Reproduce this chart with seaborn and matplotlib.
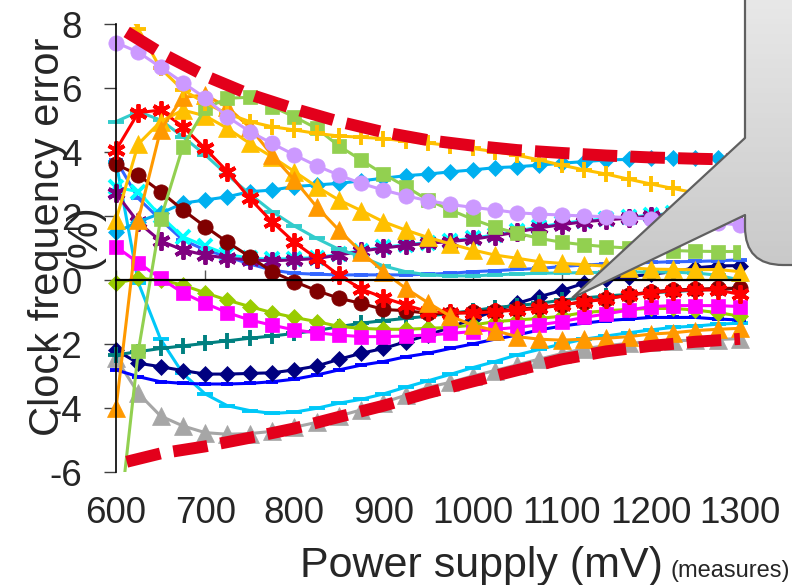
import numpy as np
import pandas as pd
import matplotlib
matplotlib.use("Agg")
import matplotlib.pyplot as plt
import seaborn as sns
from matplotlib.patches import Polygon, Rectangle, FancyBboxPatch
from matplotlib.colors import to_rgb

# ---------------- data ----------------
voltage = list(range(600, 1301, 25))  # mV, 29 measure points

lavender_circ = [7.42, 7.12, 6.65, 6.17, 5.69, 5.1, 4.64, 4.27, 3.91, 3.57, 3.28, 3.02, 2.81, 2.63, 2.48,
                 2.36, 2.27, 2.19, 2.1, 2.06, 2.03, 2.0, 1.98, 1.95, 1.9, 1.86, 1.82, 1.78, 1.72]
gold_plus = [9.0, 7.85, 6.61, 5.94, 5.53, 5.2, 4.95, 4.79, 4.69, 4.58, 4.5, 4.46, 4.42, 4.34, 4.28,
             4.2, 4.11, 4.01, 3.9, 3.75, 3.59, 3.44, 3.31, 3.15, 3.0, 2.86, 2.72, 2.58, 2.45]
green_sq = [-8.5, -2.22, 1.9, 4.17, 5.36, 5.68, 5.71, 5.42, 5.1, 4.74, 4.19, 3.75, 3.31, 2.92, 2.5,
            2.19, 1.9, 1.65, 1.46, 1.3, 1.18, 1.1, 1.04, 1.0, 0.96, 0.92, 0.9, 0.89, 0.89]
orange_tri = [-4.01, 1.88, 4.69, 5.71, 5.78, 5.4, 4.77, 3.9, 3.13, 2.29, 1.56, 0.88, 0.26, -0.26, -0.71,
              -1.13, -1.41, -1.58, -1.77, -1.85, -1.88, -1.85, -1.82, -1.77, -1.69, -1.65, -1.58, -1.54, -1.51]
gold_tri = [1.88, 4.25, 4.95, 5.31, 5.13, 4.74, 4.27, 3.85, 3.39, 2.92, 2.5, 2.17, 1.82, 1.56, 1.33,
            1.13, 0.94, 0.78, 0.68, 0.57, 0.52, 0.48, 0.43, 0.38, 0.34, 0.33, 0.32, 0.33, 0.26]
red_star = [4.06, 5.23, 5.31, 4.79, 4.11, 3.39, 2.55, 1.82, 1.18, 0.68, 0.15, -0.28, -0.55, -0.78, -0.99,
            -1.02, -1.04, -0.99, -0.94, -0.89, -0.78, -0.68, -0.6, -0.47, -0.4, -0.33, -0.31, -0.31, -0.45]
turq_dash = [4.95, 5.26, 5.0, 4.48, 3.91, 3.28, 2.69, 2.14, 1.69, 1.3, 0.96, 0.73, 0.44, 0.26, 0.16,
             0.13, 0.13, 0.16, 0.19, 0.21, 0.22, 0.23, 0.24, 0.25, 0.25, 0.24, 0.22, 0.15, 0.0]
darkred_circ = [3.62, 3.28, 2.76, 2.19, 1.67, 1.18, 0.73, 0.26, -0.05, -0.33, -0.57, -0.73, -0.92, -0.96, -1.04,
                -1.06, -0.99, -0.96, -0.92, -0.85, -0.78, -0.68, -0.58, -0.47, -0.37, -0.31, -0.29, -0.26, -0.26]
sky_diam = [1.49, 1.82, 2.08, 2.4, 2.5, 2.6, 2.76, 2.81, 2.92, 2.97, 3.02, 3.1, 3.18, 3.26, 3.31,
            3.38, 3.44, 3.51, 3.54, 3.59, 3.65, 3.7, 3.75, 3.77, 3.8, 3.8, 3.82, 3.8, 3.8]
purple_star = [2.71, 1.8, 1.22, 0.94, 0.78, 0.68, 0.63, 0.6, 0.63, 0.67, 0.78, 0.9, 1.0, 1.08, 1.15,
               1.2, 1.27, 1.38, 1.5, 1.63, 1.73, 1.82, 1.88, 1.93, 2.0, 2.06, 2.1, 2.14, 2.18]
cyan_x = [2.9, 2.76, 2.0, 1.35, 1.06, 0.8, 0.68, 0.65, 0.67, 0.7, 0.8, 0.92, 1.02, 1.1, 1.17,
          1.23, 1.3, 1.41, 1.53, 1.66, 1.77, 1.85, 1.91, 1.96, 2.03, 2.08, 2.12, 2.16, 2.2]
royal_dash = [3.75, 2.55, 1.88, 1.25, 0.94, 0.73, 0.5, 0.31, 0.21, 0.18, 0.16, 0.16, 0.16, 0.16, 0.18,
              0.21, 0.26, 0.29, 0.33, 0.36, 0.42, 0.47, 0.5, 0.52, 0.55, 0.57, 0.58, 0.6, 0.63]
magenta_sq = [1.04, 0.54, 0.05, -0.4, -0.73, -1.02, -1.25, -1.41, -1.56, -1.65, -1.72, -1.77, -1.77, -1.75, -1.72,
              -1.67, -1.61, -1.54, -1.48, -1.4, -1.3, -1.17, -1.06, -0.94, -0.83, -0.8, -0.8, -0.8, -0.83]
ygreen_diam = [-0.1, 0.05, 0.0, -0.16, -0.4, -0.63, -0.83, -1.02, -1.17, -1.3, -1.45, -1.51, -1.54, -1.54, -1.51,
               -1.48, -1.41, -1.3, -1.25, -1.2, -1.13, -1.02, -0.96, -0.92, -0.89, -0.89, -0.94, -1.02, -1.13]
teal_plus = [-2.34, -2.24, -2.14, -2.06, -1.98, -1.9, -1.82, -1.75, -1.67, -1.58, -1.46, -1.35, -1.27, -1.2, -1.13,
             -1.04, -0.96, -0.86, -0.8, -0.73, -0.63, -0.56, -0.5, -0.45, -0.4, -0.36, -0.32, -0.29, -0.26]
navy_diam = [-2.19, -2.6, -2.71, -2.83, -2.94, -2.94, -2.92, -2.9, -2.81, -2.69, -2.48, -2.29, -2.14, -1.93, -1.72,
             -1.48, -1.22, -0.96, -0.73, -0.52, -0.33, -0.1, 0.03, 0.1, 0.18, 0.26, 0.38, 0.44, 0.45]
blue_dash = [-2.81, -3.02, -3.18, -3.23, -3.25, -3.25, -3.23, -3.18, -3.1, -2.97, -2.81, -2.66, -2.55, -2.4, -2.29,
             -2.14, -2.0, -1.85, -1.72, -1.56, -1.44, -1.35, -1.27, -1.22, -1.17, -1.17, -1.17, -1.22, -1.25]
lightblue_dash = [3.7, -0.08, -1.85, -2.92, -3.56, -3.93, -4.08, -4.17, -4.13, -4.01, -3.85, -3.73, -3.56, -3.35, -3.15,
                  -2.95, -2.74, -2.55, -2.34, -2.17, -2.0, -1.85, -1.75, -1.65, -1.56, -1.48, -1.44, -1.38, -1.35]
gray_tri = [-2.45, -3.54, -4.25, -4.56, -4.77, -4.82, -4.8, -4.73, -4.6, -4.45, -4.25, -4.06, -3.83, -3.6, -3.35,
            -3.2, -3.0, -2.83, -2.65, -2.47, -2.3, -2.15, -2.05, -1.98, -1.93, -1.9, -1.88, -1.86, -1.83]

envelope_v = [612, 650, 700, 750, 800, 850, 900, 950, 1000, 1050, 1100, 1150, 1200, 1250, 1300]
envelope_upper = [7.75, 7.1, 6.38, 5.8, 5.35, 4.95, 4.62, 4.37, 4.2, 4.06, 3.97, 3.89, 3.83, 3.79, 3.76]
envelope_lower = [-5.68, -5.42, -5.2, -4.93, -4.64, -4.28, -3.93, -3.53, -3.17, -2.82, -2.48, -2.23, -2.06, -1.93, -1.84]

x_ticks = [600, 700, 800, 900, 1000, 1100, 1200, 1300]
y_ticks = [-6, -4, -2, 0, 2, 4, 6, 8]

# (values, color, marker, markersize, clip)
series = [
    (gray_tri, "#A6A6A6", "^", 12.5, False),
    (lightblue_dash, "#00C8F8", "_", 11, False),
    (blue_dash, "#0000FF", "_", 9, False),
    (navy_diam, "#000080", "D", 8.6, False),
    (teal_plus, "#008080", "+", 12, False),
    (ygreen_diam, "#99CC00", "D", 8.6, False),
    (magenta_sq, "#FF00FF", "s", 10, False),
    (royal_dash, "#3366FF", "_", 10, False),
    (cyan_x, "#00FFFF", "x", 10, False),
    (purple_star, "#800080", (6, 2, 0), 13, False),
    (sky_diam, "#00B0F0", "D", 8.6, False),
    (darkred_circ, "#800000", "o", 11, False),
    (turq_dash, "#33CCCC", "_", 11, False),
    (red_star, "#FF0000", (6, 2, 0), 13, False),
    (gold_tri, "#FFC000", "^", 12.5, False),
    (orange_tri, "#FF9900", "^", 12.5, False),
    (green_sq, "#92D050", "s", 10, True),
    (gold_plus, "#FFC000", "+", 12, True),
    (lavender_circ, "#CC99FF", "o", 11, False),
]

# ---------------- style ----------------
sns.set_style("white")
plt.rcParams["font.family"] = ["Liberation Sans", "DejaVu Sans"]
plt.rcParams["axes.unicode_minus"] = False

W, H = 792, 585
fig = plt.figure(figsize=(W / 100, H / 100), dpi=100)
ax = fig.add_axes([116 / W, 1 - 472 / H, (740 - 116) / W, (472 - 24) / H])
ax.set_facecolor("none")

for vals, col, mk, ms, clip in series:
    linelike = mk in ("_", "+", "x") or isinstance(mk, tuple)
    sns.lineplot(x=voltage, y=vals, ax=ax, color=col, marker=mk, markersize=ms,
                 markeredgecolor=col, markerfacecolor=col,
                 markeredgewidth=2.8 if linelike else 0.5,
                 linewidth=2.2, clip_on=clip)

env_red = "#E3001B"
for env in (envelope_upper, envelope_lower):
    sns.lineplot(x=envelope_v, y=env, ax=ax, color=env_red, linewidth=8.6,
                 linestyle=(0, (2.9, 1.1)), dash_capstyle="butt", clip_on=False)

ax.set_xlim(600, 1300)
ax.set_ylim(-6, 8)
ax.set_xlabel("")
ax.set_ylabel("")

for s in ("top", "right"):
    ax.spines[s].set_visible(False)
ax.spines["left"].set_color("black")
ax.spines["left"].set_linewidth(1.2)
ax.spines["bottom"].set_position(("data", 0))
ax.spines["bottom"].set_color("black")
ax.spines["bottom"].set_linewidth(1.6)

ax.set_xticks(x_ticks)
ax.tick_params(axis="x", direction="in", length=7, width=1, color="#555555",
               labelbottom=False, bottom=True)
ax.set_yticks(y_ticks)
ax.tick_params(axis="y", direction="out", length=8.5, width=1, color="#404040",
               labelsize=26.5, pad=16, left=True)

secx = ax.secondary_xaxis("bottom")
secx.set_xticks(x_ticks)
secx.tick_params(length=0, pad=17, labelsize=26.5)
secx.spines["bottom"].set_visible(False)

fig.text(66 / W, 1 - 237 / H, "Clock frequency error\n(%)", rotation=90,
         ha="center", va="center", fontsize=30, linespacing=0.9, multialignment="center")
fig.text(481 / W, 1 - 577 / H, "Power supply (mV)", ha="center", va="baseline", fontsize=31)
fig.text(670 / W, 1 - 577 / H, "(measures)", ha="left", va="baseline", fontsize=17)

# ---------------- callout (pixel coordinates, y downwards) ----------------
oax = fig.add_axes([0, 0, 1, 1], zorder=20)
oax.set_xlim(0, W)
oax.set_ylim(H, 0)
oax.set_autoscale_on(False)
oax.axis("off")
oax.patch.set_alpha(0)

edge_col = "#606060"
c_top, c_bot = np.array(to_rgb("#ECECEC")), np.array(to_rgb("#C4C4C4"))


def gradient_fill(clip_patch, y0=-40.0, y1=305.0, n=70):
    h = (y1 - y0) / n
    for i in range(n):
        t = i / (n - 1)
        col = c_top * (1 - t) + c_bot * t
        r = Rectangle((550, y0 + i * h), 260, h + 0.8, facecolor=col, edgecolor="none", zorder=2)
        oax.add_patch(r)
        r.set_clip_path(clip_patch)


box = FancyBboxPatch((745, -60), 120, 325, boxstyle="round,pad=0,rounding_size=38",
                     facecolor="none", edgecolor=edge_col, lw=1.6, zorder=3)
oax.add_patch(box)
box_clip = FancyBboxPatch((745, -60), 120, 325, boxstyle="round,pad=0,rounding_size=38",
                          facecolor="none", edgecolor="none", zorder=1)
oax.add_patch(box_clip)
gradient_fill(box_clip)

pointer_clip = Polygon([(745, 138), (572, 298), (745, 215), (760, 215), (760, 138)], closed=True,
                       facecolor="none", edgecolor="none", zorder=1)
oax.add_patch(pointer_clip)
h = 345.0 / 70
for i in range(70):
    t = i / 69
    col = c_top * (1 - t) + c_bot * t
    r = Rectangle((550, -40 + i * h), 260, h + 0.8, facecolor=col, edgecolor="none", zorder=4)
    oax.add_patch(r)
    r.set_clip_path(pointer_clip)
oax.plot([745, 572, 745], [138, 298, 215], color=edge_col, lw=1.6, zorder=5,
         solid_joinstyle="miter")

fig.savefig("out.png", dpi=100)
